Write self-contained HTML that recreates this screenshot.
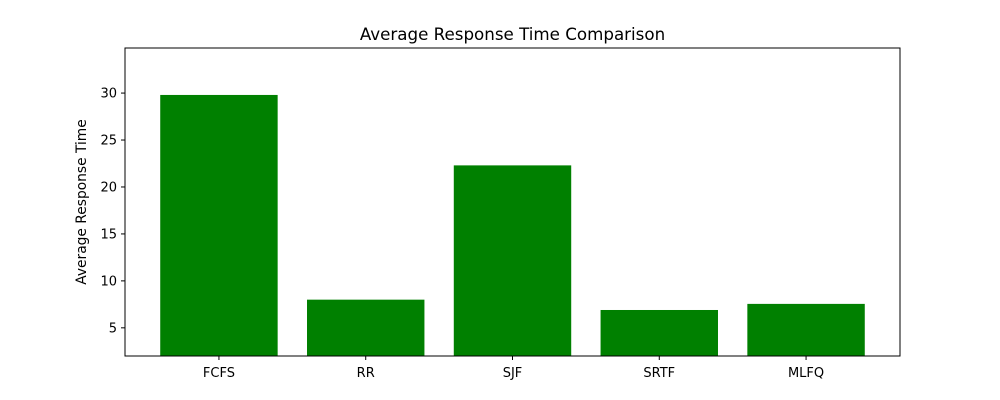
<!DOCTYPE html>
<html><head><meta charset="utf-8"><style>
body{margin:0;background:#fff;}
svg{display:block;font-family:"DejaVu Sans","Liberation Sans",sans-serif;}
</style></head><body>
<svg id="chart" width="1000" height="400">
<text x="512.5" y="40" text-anchor="middle" font-size="16.7">Average Response Time Comparison</text>
<text transform="translate(89,202) rotate(-90)" text-anchor="middle" font-size="13.8" x="0" y="-3">Average Response Time</text>
<g id="bars"></g><g id="ticks"></g>
<rect x="125" y="48" width="775" height="308" fill="none" stroke="#000" stroke-width="1"/>
</svg>
<script>
const categories = ["FCFS","RR","SJF","SRTF","MLFQ"];
const values = [29.8, 8.0, 22.3, 6.9, 7.55];
const yTicks = [5,10,15,20,25,30];
const yMin = 2.0, yMax = 34.8;
const L=125,R=900,T=48,B=356;
const NS="http://www.w3.org/2000/svg";
function y(v){return B-(v-yMin)/(yMax-yMin)*(B-T);}
const n=categories.length, xmin=-0.64, xmax=n-1+0.64;
function x(i){return L+(i-xmin)/(xmax-xmin)*(R-L);}
const bw=0.8*(R-L)/(xmax-xmin);
const bars=document.getElementById('bars'), ticks=document.getElementById('ticks');
values.forEach((v,i)=>{
  const r=document.createElementNS(NS,'rect');
  r.setAttribute('x',x(i)-bw/2);r.setAttribute('y',y(v));
  r.setAttribute('width',bw);r.setAttribute('height',B-y(v));
  r.setAttribute('fill','#008000');
  
  
  bars.appendChild(r);
  const t=document.createElementNS(NS,'line');
  t.setAttribute('x1',x(i));t.setAttribute('x2',x(i));t.setAttribute('y1',B);t.setAttribute('y2',B+4);t.setAttribute('stroke','#000');
  
  
  ticks.appendChild(t);
  const l=document.createElementNS(NS,'text');
  l.setAttribute('x',x(i));l.setAttribute('y',B+21);l.setAttribute('text-anchor','middle');l.setAttribute('font-size','13');
  l.textContent=categories[i];
  
  
  ticks.appendChild(l);
});
yTicks.forEach(v=>{
  const t=document.createElementNS(NS,'line');
  t.setAttribute('x1',L-4);t.setAttribute('x2',L);t.setAttribute('y1',y(v));t.setAttribute('y2',y(v));t.setAttribute('stroke','#000');
  
  
  ticks.appendChild(t);
  const l=document.createElementNS(NS,'text');
  l.setAttribute('x',L-8);l.setAttribute('y',y(v)+4.5);l.setAttribute('text-anchor','end');l.setAttribute('font-size','13');
  l.textContent=v;
  
  
  ticks.appendChild(l);
});
</script>
</body></html>
